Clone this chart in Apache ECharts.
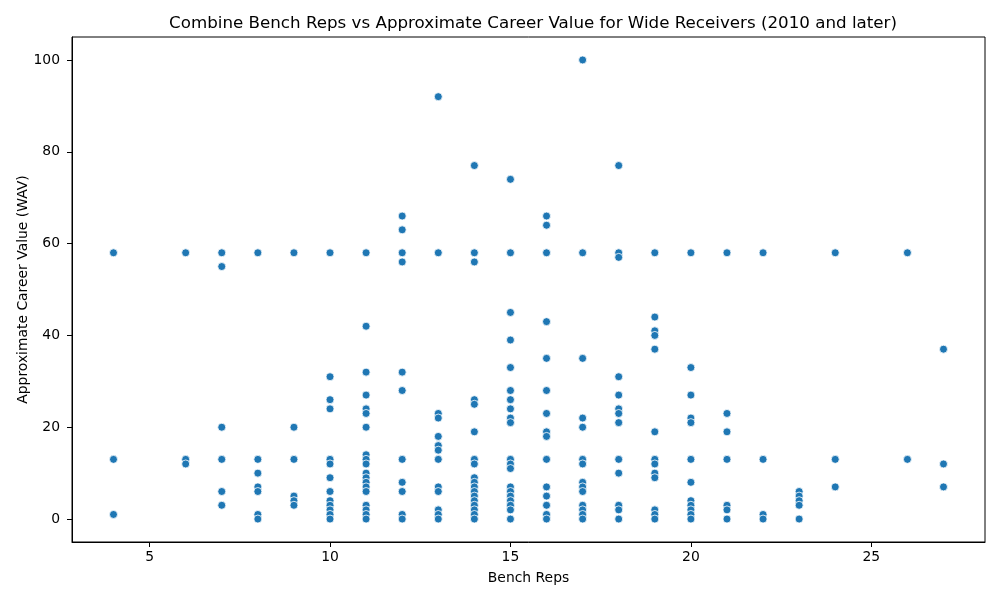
<!DOCTYPE html>
<html>
<head>
<meta charset="utf-8">
<script src="https://cdn.jsdelivr.net/npm/echarts@6/dist/echarts.min.js"></script>
<style>
  html, body { margin: 0; padding: 0; background: #fff; }
  #chart { width: 1000px; height: 600px; }
</style>
</head>
<body>
<div id="chart"></div>
<script>
const chartTitle = 'Combine Bench Reps vs Approximate Career Value for Wide Receivers (2010 and later)';
const xAxisName = 'Bench Reps';
const yAxisName = 'Approximate Career Value (WAV)';
const xTicks = [5, 10, 15, 20, 25];
const yTicks = [0, 20, 40, 60, 80, 100];

// bench reps values and the career values observed at each
const benchReps = [4, 6, 7, 8, 9, 10, 11, 12, 13, 14, 15, 16, 17, 18, 19, 20, 21, 22, 23, 24, 26, 27];
const wavAtReps = [
  [58, 13, 1],
  [58, 13, 12],
  [58, 55, 20, 13, 6, 3],
  [58, 13, 10, 7, 6, 1, 0],
  [58, 20, 13, 5, 4, 3],
  [58, 31, 26, 24, 13, 12, 9, 6, 4, 3, 2, 1, 0],
  [58, 42, 32, 27, 24, 23, 20, 14, 13, 12, 10, 9, 8, 7, 6, 3, 2, 1, 0],
  [66, 63, 58, 56, 32, 28, 13, 8, 6, 1, 0],
  [92, 58, 23, 22, 18, 16, 15, 13, 7, 6, 2, 1, 0],
  [77, 58, 56, 26, 25, 19, 13, 12, 9, 8, 7, 6, 5, 4, 3, 2, 1, 0],
  [74, 58, 45, 39, 33, 28, 26, 24, 22, 21, 13, 12, 11, 7, 6, 5, 4, 3, 2, 0],
  [66, 64, 58, 43, 35, 28, 23, 19, 18, 13, 7, 5, 3, 1, 0],
  [100, 58, 35, 22, 20, 13, 12, 8, 7, 6, 3, 2, 1, 0],
  [77, 58, 57, 31, 27, 24, 23, 21, 13, 10, 3, 2, 0],
  [58, 44, 41, 40, 37, 19, 13, 12, 10, 9, 2, 1, 0],
  [58, 33, 27, 22, 21, 13, 8, 4, 3, 2, 1, 0],
  [58, 23, 19, 13, 3, 2, 0],
  [58, 13, 1, 0],
  [6, 5, 4, 3, 0],
  [58, 13, 7],
  [58, 13],
  [37, 12, 7]
];

const points = [];
benchReps.forEach((r, i) => wavAtReps[i].forEach(v => points.push([r, v])));

const font = 'DejaVu Sans';
const chart = echarts.init(document.getElementById('chart'), null, { renderer: 'canvas' });
chart.setOption({
  animation: false,
  backgroundColor: '#fff',
  title: {
    text: chartTitle,
    left: 528,
    top: 10,
    textAlign: 'center',
    textStyle: { fontFamily: font, fontSize: 16.7, fontWeight: 'normal', color: '#000' }
  },
  grid: {
    left: 72, right: 15, top: 37, bottom: 58,
    show: true, borderColor: '#000', borderWidth: 1, backgroundColor: 'transparent'
  },
  xAxis: {
    type: 'value',
    min: 2.85, max: 28.15,
    name: xAxisName,
    nameLocation: 'middle',
    nameGap: 29,
    nameMoveOverlap: false,
    nameTextStyle: { fontFamily: font, fontSize: 13.9, color: '#000' },
    axisLine: { show: true, onZero: false, lineStyle: { color: '#000', width: 1 } },
    axisTick: { show: true, customValues: xTicks, length: 5, lineStyle: { color: '#000', width: 1 } },
    axisLabel: { customValues: xTicks, fontFamily: font, fontSize: 13.9, color: '#000', margin: 8 },
    splitLine: { show: false }
  },
  yAxis: {
    type: 'value',
    min: -5, max: 105,
    name: yAxisName,
    nameLocation: 'middle',
    nameGap: 42,
    nameMoveOverlap: false,
    nameTextStyle: { fontFamily: font, fontSize: 13.9, color: '#000' },
    axisLine: { show: true, onZero: false, lineStyle: { color: '#000', width: 1 } },
    axisTick: { show: true, customValues: yTicks, length: 5, lineStyle: { color: '#000', width: 1 } },
    axisLabel: { customValues: yTicks, fontFamily: font, fontSize: 13.9, color: '#000', margin: 12 },
    splitLine: { show: false }
  },
  series: [{
    type: 'scatter',
    data: points,
    symbol: 'circle',
    symbolSize: 8,
    itemStyle: { color: '#1f77b4', borderColor: '#fff', borderWidth: 0.8, opacity: 1 }
  }]
});
</script>
</body>
</html>
